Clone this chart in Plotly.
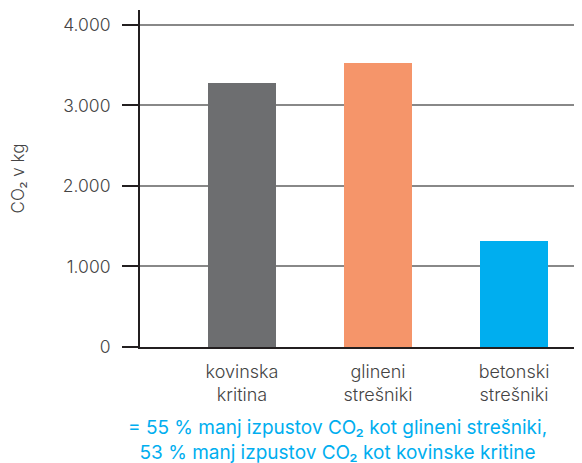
import plotly.graph_objects as go

categories = ["kovinska<br>kritina", "glineni<br>strešniki", "betonski<br>strešniki"]
values = [3280, 3528, 1317]
colors = ["#6d6e70", "#f5956a", "#00aeef"]
y_ticks = [0, 1000, 2000, 3000, 4000]
y_tick_labels = ["0", "1.000", "2.000", "3.000", "4.000"]
note = "= 55 % manj izpustov CO₂ kot glineni strešniki,<br>53 % manj izpustov CO₂ kot kovinske kritine"

# page body has an 8px margin; the figure is sized/placed to compensate
W, H = 574, 455
L, T, B = 132, 2, 116
plot_h = H - T - B
plot_w = W - L

fig = go.Figure(go.Bar(x=list(range(len(categories))), y=values,
                       marker=dict(color=colors, line=dict(width=0)), width=0.5))

fig.update_layout(
    width=W, height=H,
    margin=dict(l=L, r=0, t=T, b=B),
    plot_bgcolor="white", paper_bgcolor="white",
    font=dict(family="Inter", size=16, color="#444444"),
    showlegend=False,
    xaxis=dict(range=[-0.75, 2.5], tickmode="array", tickvals=list(range(len(categories))),
               ticktext=categories, showgrid=False, showline=True, linecolor="#231f20",
               linewidth=2, ticks="", zeroline=False, ticklabelstandoff=7,
               tickfont=dict(family="Inter", size=18, color="#444444", weight=300)),
    yaxis=dict(range=[0, 4186], tickmode="array", tickvals=y_ticks, ticktext=y_tick_labels,
               showgrid=True, gridcolor="#888888", gridwidth=2, zeroline=False,
               showline=True, linecolor="#231f20", linewidth=2,
               ticks="outside", ticklen=16, tickwidth=2, tickcolor="#231f20",
               ticklabelstandoff=8,
               tickfont=dict(family="Inter", size=17.5, color="#444444", weight=300),
               title=dict(text="CO₂ v kg", standoff=36,
                          font=dict(family="Inter", size=17, color="#444444", weight=300))),
    annotations=[dict(text=note, xref="paper", yref="paper", x=(337 - 140) / plot_w,
                      y=-(440 - 347) / plot_h,
                      xanchor="center", yanchor="middle", showarrow=False, align="center",
                      font=dict(family="Inter", size=19, color="#00aeef", weight=400))],
)

fig.write_html("out.html")
